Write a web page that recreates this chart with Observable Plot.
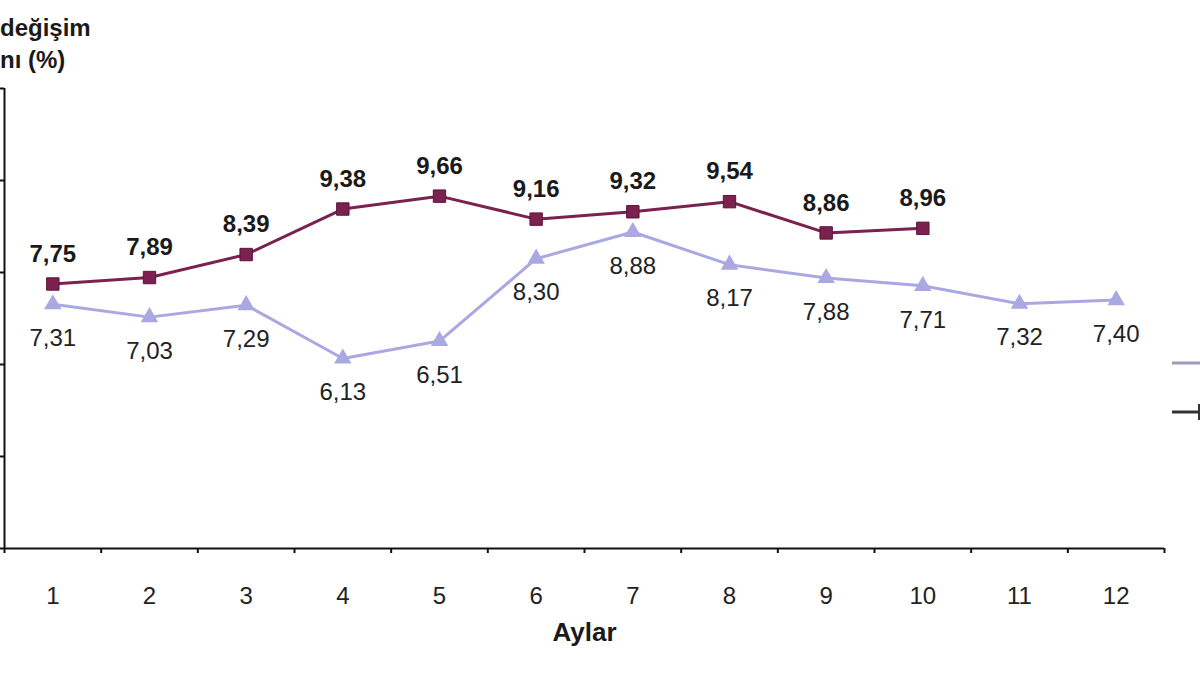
<!DOCTYPE html>
<html>
<head>
<meta charset="utf-8">
<script src="https://cdn.jsdelivr.net/npm/d3@7"></script>
<script src="https://cdn.jsdelivr.net/npm/@observablehq/plot@0.6"></script>
<style>
  html, body { margin: 0; padding: 0; background: #fff; overflow: hidden; width: 1200px; height: 675px; }
  #title { font-family: "Liberation Sans", Arial, sans-serif; font-weight: bold; font-size: 24px; color: #1a1a1a;
           line-height: 32px; padding-top: 12px; height: 64px; padding-left: 0px; }
  #legend { position: absolute; left: 1172px; top: 350px; width: 28px; height: 80px; overflow: hidden; }
</style>
</head>
<body>
<div id="title">değişim<br>nı (%)</div>
<div id="chart"></div>
<div id="legend"></div>
<script>
// ---- data ----
const months = [1, 2, 3, 4, 5, 6, 7, 8, 9, 10, 11, 12];
const seriesA = [7.75, 7.89, 8.39, 9.38, 9.66, 9.16, 9.32, 9.54, 8.86, 8.96];
const seriesB = [7.31, 7.03, 7.29, 6.13, 6.51, 8.30, 8.88, 8.17, 7.88, 7.71, 7.32, 7.40];
const yTicks = [2, 4, 6, 8, 10, 12];
const xLabel = "Aylar";

const maroon = "#7b2150";
const lavender = "#aaa8e2";

const dataA = seriesA.map((v, i) => ({ m: months[i], v }));
const dataB = seriesB.map((v, i) => ({ m: months[i], v }));
const boundaries = [0, ...months].map(m => m + 0.5);

const locale = d3.formatLocale({ decimal: ",", thousands: ".", grouping: [3], currency: ["", ""] });
const fmt = locale.format(".2f");

const chart = Plot.plot({
  width: 1200,
  height: 599,
  marginTop: 12,
  marginBottom: 127,
  marginLeft: 4,
  marginRight: 36,
  style: { fontFamily: "'Liberation Sans', Arial, sans-serif", background: "white", color: "#1a1a1a" },
  x: { type: "linear", domain: [0.5, 12.5], label: null },
  y: { domain: [2, 12], label: null },
  marks: [
    Plot.axisY({ ticks: yTicks, tickSize: 5, tickFormat: () => "", strokeWidth: 2, stroke: "#111" }),
    Plot.axisX({ ticks: boundaries, tickSize: 5, tickFormat: () => "", strokeWidth: 2, stroke: "#111" }),
    Plot.axisX({ ticks: months, tickSize: 0, tickPadding: 38, fontSize: 24, tickFormat: d => String(d), fill: "#222" }),
    Plot.ruleX([0.5], { strokeWidth: 2, stroke: "#111" }),
    Plot.ruleY([2], { strokeWidth: 2, stroke: "#111" }),
    Plot.line(dataB, { x: "m", y: "v", stroke: lavender, strokeWidth: 3 }),
    Plot.dot(dataB, { x: "m", y: "v", symbol: "triangle", fill: lavender, r: 6.5 }),
    Plot.line(dataA, { x: "m", y: "v", stroke: maroon, strokeWidth: 3 }),
    Plot.dot(dataA, { x: "m", y: "v", symbol: "square", fill: maroon, stroke: "#5e1439", strokeWidth: 1, r: 7 }),
    Plot.text(dataA, { x: "m", y: "v", text: d => fmt(d.v), dy: -30, fontSize: 24, fontWeight: "bold", fill: "#1a1a1a" }),
    Plot.text(dataB, { x: "m", y: "v", text: d => fmt(d.v), dy: 34, fontSize: 24, fill: "#222" }),
    Plot.text([xLabel], { frameAnchor: "bottom", dy: 84, lineAnchor: "middle", fontSize: 26, fontWeight: "bold", fill: "#1a1a1a" })
  ]
});
document.getElementById("chart").appendChild(chart);

// legend swatches (cut off at the right edge, as in the reference)
const leg = d3.select("#legend").append("svg").attr("width", 28).attr("height", 80);
leg.append("line").attr("x1", 0).attr("x2", 40).attr("y1", 13).attr("y2", 13)
  .attr("stroke", "#9c9bbf").attr("stroke-width", 3);
leg.append("line").attr("x1", 0).attr("x2", 40).attr("y1", 62).attr("y2", 62)
  .attr("stroke", "#333").attr("stroke-width", 3);
leg.append("rect").attr("x", 26).attr("y", 54).attr("width", 16).attr("height", 16).attr("fill", "#333");
</script>
</body>
</html>
